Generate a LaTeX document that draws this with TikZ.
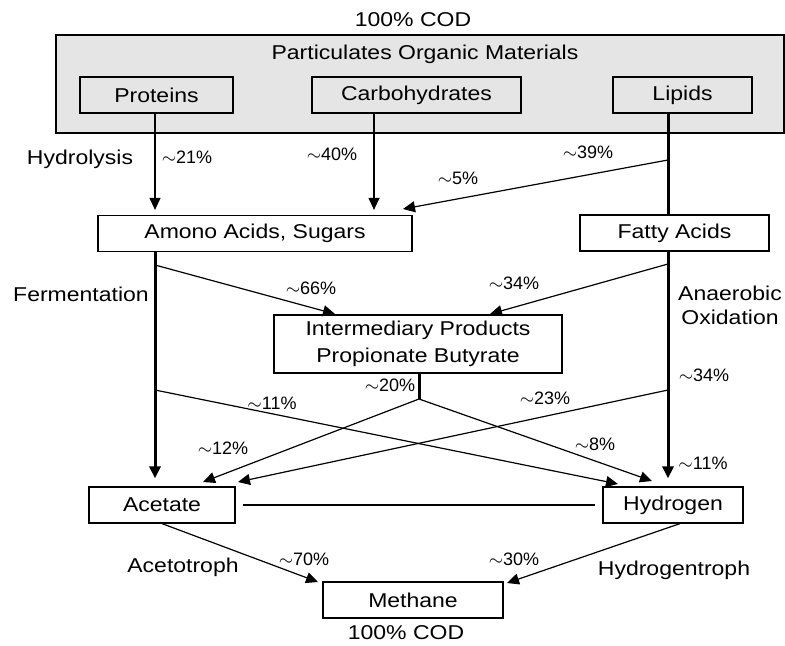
\documentclass[tikz,border=0pt]{standalone}
\usepackage{fontspec}
\setmainfont[FakeStretch=1.15]{Liberation Sans}
\newfontfamily\pctfont{Liberation Sans}
\usetikzlibrary{arrows.meta}
\usetikzlibrary{calc}
\tikzstyle{box}=[rectangle,draw,line width=0.6pt,inner sep=0pt,minimum height=18pt,font=\fontsize{10}{12}\selectfont]
\tikzstyle{bigbox}=[rectangle,draw,line width=0.6pt,fill=black!10,minimum width=364pt,minimum height=49pt,inner sep=0pt]
\tikzstyle{note}=[inner sep=0pt,font=\fontsize{10}{12}\selectfont]
\tikzstyle{pct}=[inner sep=0pt,font=\pctfont\fontsize{9}{11}\selectfont]
\tikzstyle{flow}=[-{Triangle[length=6pt,width=5.5pt]},line width=0.6pt]
\tikzstyle{mainflow}=[-{Triangle[length=6pt,width=5.5pt]},line width=1.5pt]
\tikzstyle{mainline}=[line width=1.5pt]
\tikzstyle{link}=[line width=0.6pt]

\begin{document}
\begin{tikzpicture}[x=0.5pt,y=-0.5pt]
  \useasboundingbox (0,0) rectangle (785,646);

  % particulate material
  \node[bigbox] (pom) at (420,84) {};
  \node[note] (pomtxt) at (425,54) {Particulates Organic Materials};
  \node[note] (codtop) at (413,20) {100\% COD};

  \foreach \pos/\name/\txt/\w in {{(156.5,95)/proteins/Proteins/76.5pt}, {(416.5,95)/carbo/Carbohydrates/104.5pt}, {(682.5,95)/lipids/Lipids/69.5pt},
      {(255,233.5)/amino/{Amono Acids, Sugars}/157pt}, {(674.5,233)/fatty/Fatty Acids/94.5pt},
      {(162,505)/acetate/Acetate/73pt}, {(673,505)/hydrogen/Hydrogen/70pt}, {(413,600)/methane/Methane/90pt}}
    \node[box,minimum width=\w] (\name) at \pos {\txt};

  \node[box,minimum width=144pt,minimum height=29pt,align=center,font=\fontsize{10}{13.5}\selectfont] (inter) at (418,344) {Intermediary Products\\Propionate Butyrate};

  % process names
  \node[note] (hydro) at (80,159) {Hydrolysis};
  \node[note] (ferm) at (81,294) {Fermentation};
  \node[note,align=center] (anox) at (730,305) {Anaerobic\\Oxidation};
  \node[note] (acetr) at (183,567) {Acetotroph};
  \node[note] (hydtr) at (674,570) {Hydrogentroph};
  \node[note] (codbot) at (406,633) {100\% COD};

  % branch points and arrow ends
  \coordinate (lx) at (155,0);
  \coordinate (cx) at (374,0);
  \coordinate (rx) at (668,0);
  \coordinate (b39) at (668,160);
  \coordinate (e39) at (403,209);
  \coordinate (b66) at (155,265);
  \coordinate (e66) at (335,314);
  \coordinate (b34) at (668,264);
  \coordinate (e34) at (490,314);
  \coordinate (split) at (419,399);
  \coordinate (e12) at (203,482);
  \coordinate (e8) at (652,481);
  \coordinate (b11) at (155,390);
  \coordinate (e11) at (618,484);
  \coordinate (b23) at (668,390);
  \coordinate (e23) at (238,482);
  \coordinate (e70) at (318,582);
  \coordinate (e30) at (507,583);

  \draw[flow,shorten >=2.5pt] (proteins.south -| lx) -- (amino.north -| lx);
  \draw[flow,shorten >=2.5pt] (carbo.south -| cx) -- (amino.north -| cx);
  \draw[mainline] (lipids.south -| rx) -- (fatty.north -| rx);
  \draw[flow] (b39) -- (e39);

  \draw[mainflow,shorten >=4pt] (amino.south -| lx) -- (acetate.north -| lx);
  \draw[mainflow,shorten >=4pt] (fatty.south -| rx) -- (hydrogen.north -| rx);
  \draw[flow] (b66) -- (e66);
  \draw[flow] (b34) -- (e34);

  \draw[mainline] (inter.south -| split) -- (split);
  \draw[flow] (split) -- (e12);
  \draw[flow] (split) -- (e8);
  \draw[flow] (b11) -- (e11);
  \draw[flow] (b23) -- (e23);

  \draw[link,shorten <=3.5pt,shorten >=3.5pt] (acetate.east) -- (hydrogen.west);
  \draw[flow] (acetate.south) -- (e70);
  \draw[flow] ([xshift=3.5pt]hydrogen.south) -- (e30);

  % shares
  \foreach \pos/\name/\val in {{(187,157)/p21/21}, {(332,154)/p40/40}, {(588,152)/p39/39}, {(458,178)/p5/5},
      {(311,288)/p66/66}, {(514,283)/p34a/34}, {(390,385)/p20/20}, {(704,375)/p34b/34},
      {(545,398)/p23/23}, {(272,403)/p11a/11}, {(223,448)/p12/12}, {(595,444)/p8/8},
      {(703,463)/p11b/11}, {(304,559)/p70/70}, {(514,559)/p30/30}}
    \node[pct] (\name) at \pos {$\sim$\val\%};

\end{tikzpicture}
\end{document}
